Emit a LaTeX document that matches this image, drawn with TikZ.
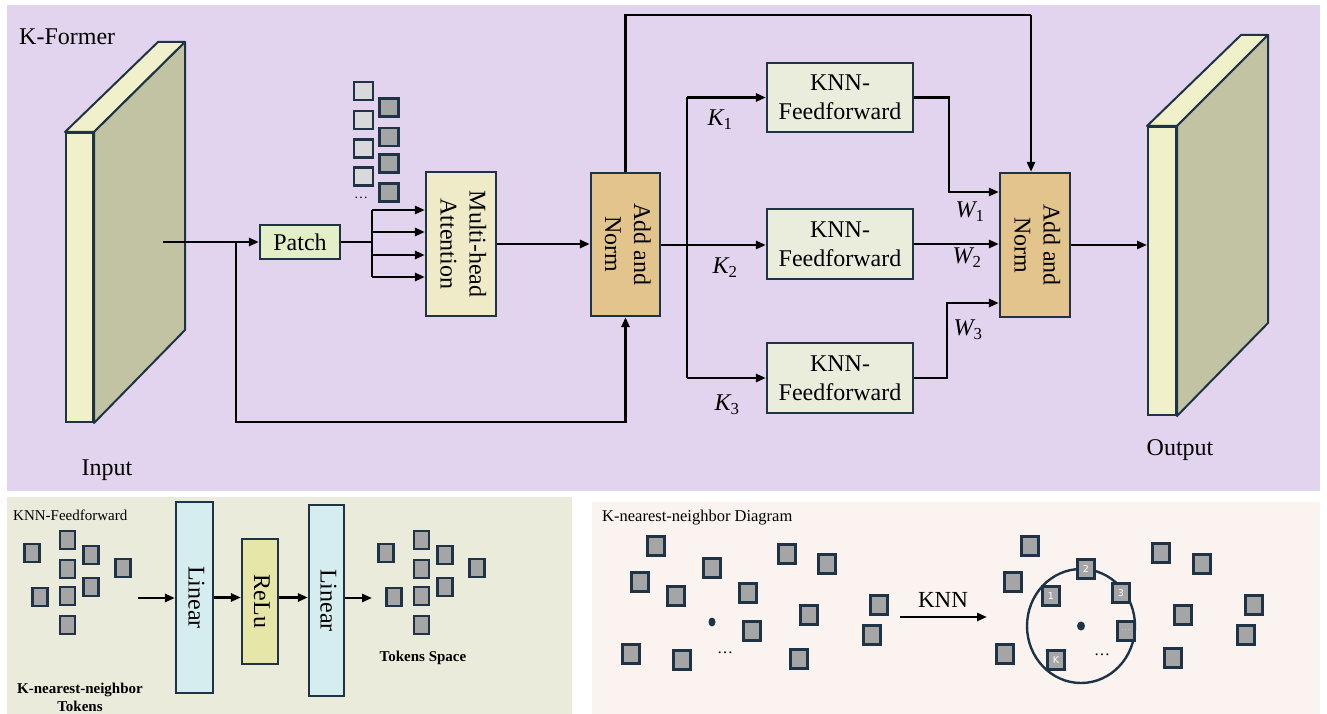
\documentclass[tikz,border=0pt]{standalone}
\usepackage{fontspec}
\setmainfont{Liberation Serif}
\newfontfamily\numfont{DejaVu Sans}
\usetikzlibrary{arrows.meta,calc,shapes.geometric}
\definecolor{bgtop}{HTML}{E2D4EE}
\definecolor{bgbl}{HTML}{EBEBDC}
\definecolor{bgbr}{HTML}{FBF3F0}
\definecolor{edge}{HTML}{1E3446}
\definecolor{slabfront}{HTML}{F0F0CA}
\definecolor{slabside}{HTML}{C2C3A3}
\definecolor{patchc}{HTML}{E3EFC6}
\definecolor{attc}{HTML}{EFEBC8}
\definecolor{addc}{HTML}{E3C48C}
\definecolor{knnc}{HTML}{EBEDDC}
\definecolor{linc}{HTML}{D6EDF0}
\definecolor{reluc}{HTML}{E6E6A8}
\definecolor{tokd}{HTML}{A5A5A5}
\definecolor{tokl}{HTML}{D9D9D9}
\newcommand\bigtxt{\fontsize{24}{29}\selectfont}
\newcommand\midtxt{\fontsize{23}{27}\selectfont}
\newcommand\smtxt{\fontsize{15}{18}\selectfont}
\newcommand\rot[1]{\rotatebox[origin=c]{-90}{\begin{tabular}{@{}c@{}}#1\end{tabular}}}
\tikzset{
  ln/.style={line width=2.5pt, black},
  arr/.style={line width=2.5pt, black, -{Triangle[length=10pt,width=8pt]}},
  box/.style={draw=edge, line width=2.2pt, inner sep=0pt, align=center, font=\bigtxt},
  slabf/.style={draw=edge, line width=2pt, fill=slabfront, inner sep=0pt},
  slabs/.style={draw=edge, line width=2pt, line join=round},
  tokd/.style={draw=edge, line width=2.4pt, fill=tokd, inner sep=0pt},
  tokl/.style={draw=edge, line width=2.4pt, fill=tokl, inner sep=0pt, minimum width=19pt, minimum height=18pt},
  tokt/.style={tokd, minimum width=19pt, minimum height=18pt},
  tokb/.style={tokd, minimum width=15pt, minimum height=18pt},
  tokr/.style={tokd, minimum width=17pt, minimum height=19pt, text=white, font=\numfont\fontsize{9.5}{10}\selectfont},
  lbl/.style={inner sep=0pt, font=\bigtxt},
}
\begin{document}
\begin{tikzpicture}[x=1pt,y=-1pt]
\useasboundingbox (0,0) rectangle (1327,714);
% panels
\fill[bgtop] (7,5) rectangle (1320,491);
\fill[bgbl] (7,497) rectangle (572,714);
\fill[bgbr] (592,502) rectangle (1320,714);

% ---------- top panel ----------
\node[lbl, anchor=west] (title) at (19,37) {K-Former};
% input slab
\node[slabf, minimum width=27pt, minimum height=289pt] (inF) at (79.5,277.5) {};
\draw[slabs, fill=slabfront] (inF.north west) -- (158,42) -- (185,42) -- (inF.north east) -- cycle;
\draw[slabs, fill=slabside] (inF.north east) -- (185,42) -- (185,330) -- (inF.south east) -- cycle;
\node[lbl] (inlbl) at (107,470) {Input};
% output slab
\node[slabf, minimum width=28pt, minimum height=288pt] (outF) at (1162,271) {};
\draw[slabs, fill=slabfront] (outF.north west) -- (1241,35) -- (1268,35) -- (outF.north east) -- cycle;
\draw[slabs, fill=slabside] (outF.north east) -- (1268,35) -- (1268,323) -- (outF.south east) -- cycle;
\node[lbl] (outlbl) at (1180,450) {Output};

% boxes
\node[box, fill=patchc, minimum width=80pt, minimum height=34pt] (patch) at (300,242) {Patch};
\node[box, fill=attc, minimum width=70pt, minimum height=144pt] (att) at (461,244) {\rot{Multi-head\\Attention}};
\node[box, fill=addc, minimum width=69pt, minimum height=143pt] (an1) at (625.5,244.5) {\rot{Add and\\Norm}};
\node[box, fill=addc, minimum width=70pt, minimum height=144pt] (an2) at (1035,245) {\rot{Add and\\Norm}};
\node[box, fill=knnc, minimum width=146pt, minimum height=69pt] (knn1) at (840,97.5) {KNN-\\Feedforward};
\node[box, fill=knnc, minimum width=146pt, minimum height=70pt] (knn2) at (840,244) {KNN-\\Feedforward};
\node[box, fill=knnc, minimum width=146pt, minimum height=70pt] (knn3) at (840,378) {KNN-\\Feedforward};

% token squares
\node[tokl] (t1) at (363.5,91) {};
\node[tokl] (t2) at (363.5,120) {};
\node[tokl] (t3) at (363.5,148.5) {};
\node[tokl] (t4) at (363.5,176.5) {};
\node[tokt] (d1) at (389,107.5) {};
\node[tokt] (d2) at (389,137) {};
\node[tokt] (d3) at (389,163.5) {};
\node[tokt] (d4) at (389,192.5) {};
\node[inner sep=0pt, font=\fontsize{14}{16}\selectfont] (tdots) at (361,198) {\dots};

% connectors top
\coordinate (inS) at (163,242);
\coordinate (br1) at (236,242);
\coordinate (bot) at (236,422);
\coordinate (fan) at (372,242);
\coordinate (top) at (1031,15);
\coordinate (sp) at (687,245);
\coordinate (w1x) at (949,192);
\coordinate (w3x) at (947,303);
\draw[arr] (inS) -- (patch.west);
\draw[arr] (br1) -- (bot) -| (an1.south);
\draw[ln] (patch.east) -- (fan);
\draw[ln] (372,210) -- (372,277);
\foreach \yy in {210,232,255,277}{
  \draw[arr] (372,\yy) -- (att.west |- 0,\yy);
}
\draw[arr] (att.east) -- (att.east -| an1.west);
\draw[ln] (an1.north) |- (top);
\draw[arr] (top) -- (top |- an2.north);
\draw[ln] (an1.east |- sp) -- (sp);
\draw[ln] (sp |- knn1.west) -- (sp |- knn3.west);
\draw[arr] (sp |- knn1.west) -- (knn1.west);
\draw[arr] (sp) -- (sp -| knn2.west);
\draw[arr] (sp |- knn3.west) -- (knn3.west);
\draw[arr] (knn1.east) -| (w1x) -- (w1x -| an2.west);
\draw[arr] (knn2.east) -- (knn2.east -| an2.west);
\draw[arr] (knn3.east) -| (w3x) -- (w3x -| an2.west);
\draw[arr] (an2.east) -- (an2.east -| outF.west);

% labels
\node[lbl] (k1) at (720,120) {\itshape K\textsubscript{\upshape 1}};
\node[lbl] (k2) at (725,268) {\itshape K\textsubscript{\upshape 2}};
\node[lbl] (k3) at (727,405) {\itshape K\textsubscript{\upshape 3}};
\node[lbl] (w1) at (970,212) {\itshape W\textsubscript{\upshape 1}};
\node[lbl] (w2) at (967,258) {\itshape W\textsubscript{\upshape 2}};
\node[lbl] (w3) at (968,330) {\itshape W\textsubscript{\upshape 3}};

% ---------- bottom-left panel ----------
\node[inner sep=0pt, anchor=west, font=\smtxt] (fftitle) at (13,515) {KNN-Feedforward};
\foreach \n/\xx/\yy in {1/32/553, 2/67.5/540, 3/91/555, 4/67.5/569, 5/123/568, 6/91/587, 7/40/597, 8/67.5/596, 9/67.5/625}{
  \node[tokb] (bl\n) at (\xx,\yy) {};
  \node[tokb] (br\n) at (\xx+354,\yy) {};
}
\node[box, fill=linc, minimum width=37pt, minimum height=191pt] (lin1) at (194.5,597.5) {\rot{Linear}};
\node[box, fill=reluc, minimum width=36pt, minimum height=125pt] (relu) at (260,601.5) {\rot{ReLu}};
\node[box, fill=linc, minimum width=35pt, minimum height=191pt] (lin2) at (326.5,600.5) {\rot{Linear}};
\coordinate (ffin) at (138,598);
\coordinate (ffout) at (372,598);
\draw[arr] (ffin) -- (ffin -| lin1.west);
\draw[arr] (lin1.east) -- (lin1.east -| relu.west);
\draw[arr] (relu.east |- lin1.east) -- (lin1.east -| lin2.west);
\draw[arr] (lin2.east |- ffout) -- (ffout);
\node[inner sep=0pt, font=\smtxt\bfseries, align=center] (knnt) at (80,697) {K-nearest-neighbor\\Tokens};
\node[inner sep=0pt, font=\smtxt\bfseries] (tsp) at (423,658) {Tokens Space};

% ---------- bottom-right panel ----------
\node[inner sep=0pt, anchor=west, font=\fontsize{16.5}{19}\selectfont] (kdt) at (602,518) {K-nearest-neighbor Diagram};
\foreach \n/\xx/\yy in {1/656/546, 2/712/568, 3/640/582, 4/676/596, 5/748/593, 6/787/554, 7/827/564, 8/809/615, 9/752/631, 10/879/605, 11/872/635, 12/631/654, 13/682/660, 14/799/659}{
  \node[tokr] (p\n) at (\xx,\yy) {};
}
\fill[edge] (712,622) ellipse (3.5pt and 4.5pt);
\node[inner sep=0pt, font=\fontsize{16}{18}\selectfont] (ld) at (725,653) {\dots};
\coordinate (ka) at (900,617);
\coordinate (kb) at (987,617);
\draw[arr] (ka) -- (kb);
\node[inner sep=0pt, font=\midtxt] (knnlbl) at (943,600) {KNN};
% right cluster
\node[draw=edge, line width=2.4pt, ellipse, minimum width=108pt, minimum height=114pt, inner sep=0pt] (circ) at (1081,626) {};
\foreach \n/\xx/\yy in {1/1030/546, 2/1013/582, 3/1005/654, 4/1161/553, 5/1202/564, 6/1183/615, 7/1173/658, 8/1254/605, 9/1246/635}{
  \node[tokr] (q\n) at (\xx,\yy) {};
}
\node[tokr] (n2) at (1086,569) {2};
\node[tokr] (n1) at (1051,596) {1};
\node[tokr] (n3) at (1121,593) {3};
\node[tokr] (nd) at (1126,631) {\raisebox{0.5pt}{$\cdot\!\cdot\!\cdot$}};
\node[tokr] (nk) at (1056,660) {K};
\fill[edge] (circ.center) ellipse (4pt and 4.5pt);
\node[inner sep=0pt, font=\fontsize{16}{18}\selectfont] (rd) at (1102,655) {\dots};
\end{tikzpicture}
\end{document}
